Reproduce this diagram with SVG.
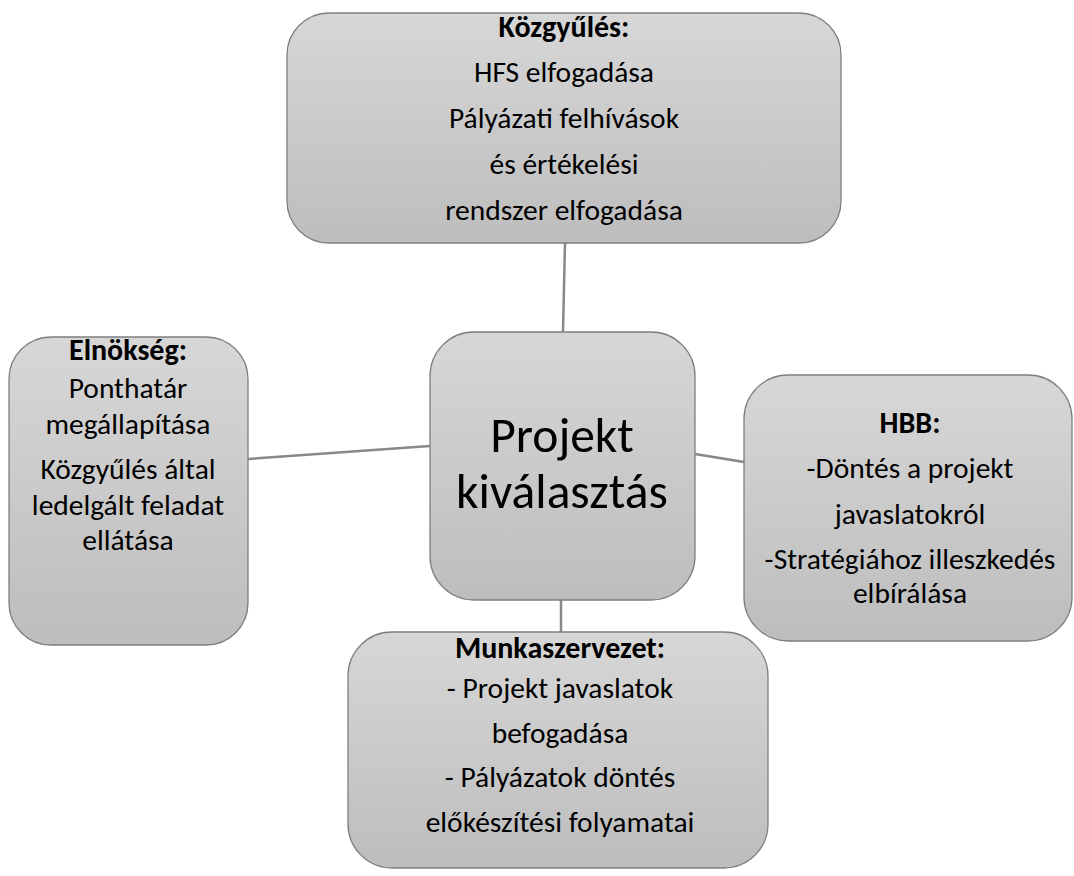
<svg xmlns="http://www.w3.org/2000/svg" width="1074" height="876" viewBox="0 0 1074 876">
<defs>
<linearGradient id="g" x1="0" y1="0" x2="0" y2="1">
<stop offset="0" stop-color="#d7d7d7"/>
<stop offset="1" stop-color="#bdbdbd"/>
</linearGradient>
<style>
.box{fill:url(#g);stroke:#7f7f7f;stroke-width:1.3}
.t{font-family:Carlito,Lato,"Open Sans",sans-serif;font-size:29.5px;fill:#000;text-anchor:middle}
.b{font-weight:bold;font-size:30px}
.big{font-size:49.5px}
.c{stroke:#888;stroke-width:2.5;fill:none}
</style>
</defs>
<rect width="1074" height="876" fill="#fff"/>
<g id="connectors">
<line class="c" x1="565" y1="243" x2="563" y2="332"/>
<line class="c" x1="248" y1="459" x2="430" y2="446"/>
<line class="c" x1="695" y1="454" x2="744" y2="462"/>
<line class="c" x1="561" y1="600" x2="561" y2="632"/>
</g>
<g id="kozgyules">
<rect class="box" x="287" y="13" width="554" height="230" rx="42"/>
<text class="t b" x="564" y="37">Közgyűlés:</text>
<text class="t" x="564" y="82">HFS elfogadása</text>
<text class="t" x="564" y="128">Pályázati felhívások</text>
<text class="t" x="564" y="174">és értékelési</text>
<text class="t" x="564" y="220">rendszer elfogadása</text>
</g>
<g id="elnokseg">
<rect class="box" x="9" y="337" width="239" height="308" rx="42"/>
<text class="t b" x="128" y="360">Elnökség:</text>
<text class="t" x="128" y="398">Ponthatár</text>
<text class="t" x="128" y="434">megállapítása</text>
<text class="t" x="128" y="479">Közgyűlés által</text>
<text class="t" x="128" y="515">ledelgált feladat</text>
<text class="t" x="128" y="550">ellátása</text>
</g>
<g id="projekt">
<rect class="box" x="430" y="332" width="265" height="268" rx="44"/>
<text class="t big" x="562" y="452">Projekt</text>
<text class="t big" x="562" y="508">kiválasztás</text>
</g>
<g id="hbb">
<rect class="box" x="744" y="375" width="328" height="266" rx="44"/>
<text class="t b" x="910" y="433">HBB:</text>
<text class="t" x="910" y="478">-Döntés a projekt</text>
<text class="t" x="910" y="524">javaslatokról</text>
<text class="t" x="910" y="569">-Stratégiához illeszkedés</text>
<text class="t" x="910" y="603">elbírálása</text>
</g>
<g id="munkaszervezet">
<rect class="box" x="348" y="632" width="420" height="236" rx="44"/>
<text class="t b" x="560" y="658">Munkaszervezet:</text>
<text class="t" x="560" y="698">- Projekt javaslatok</text>
<text class="t" x="560" y="743">befogadása</text>
<text class="t" x="560" y="787">- Pályázatok döntés</text>
<text class="t" x="560" y="832">előkészítési folyamatai</text>
</g>
</svg>
